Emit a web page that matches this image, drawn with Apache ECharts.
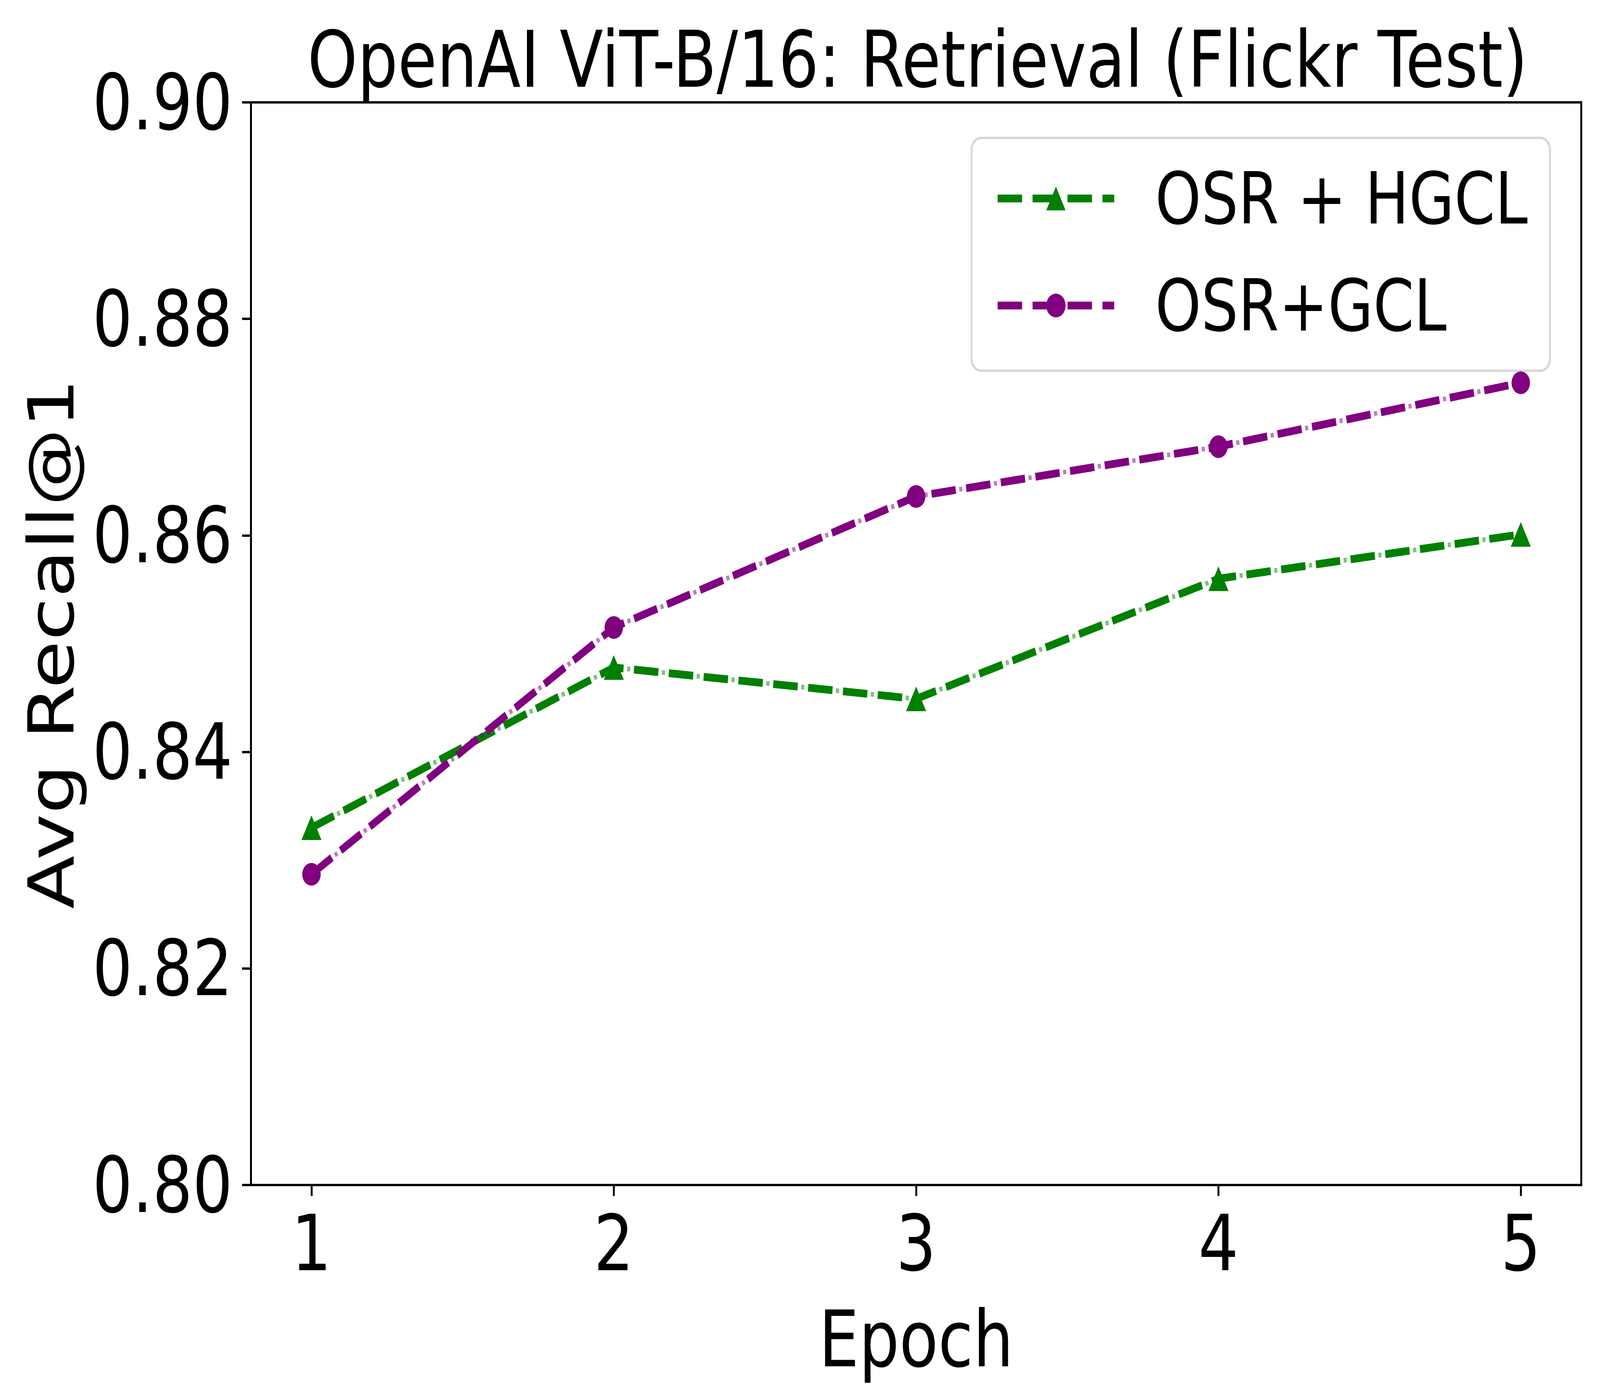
<!DOCTYPE html>
<html>
<head>
<meta charset="utf-8">
<script src="https://cdn.jsdelivr.net/npm/echarts@6/dist/echarts.min.js"></script>
<style>
html,body{margin:0;padding:0;background:#fff;overflow:hidden;}
#chart{width:5036px;height:3573px;transform-origin:0 0;}
</style>
</head>
<body>
<div id="chart"></div>
<script>
const epochs = [1, 2, 3, 4, 5];
const osrHgcl = [0.8330, 0.8478, 0.8449, 0.8560, 0.8601];
const osrGcl = [0.8287, 0.8515, 0.8636, 0.8682, 0.8741];
const xTicks = [1, 2, 3, 4, 5];
const seriesNames = ['OSR + HGCL', 'OSR+GCL'];
const titleText = 'OpenAI ViT-B/16: Retrieval (Flickr Test)';

const GREEN = '#008000', PURPLE = '#800080';
const toPairs = (ys) => epochs.map((x, i) => [x, ys[i]]);

// The chart is laid out in the reference's 5036 x 3573 pixel frame and
// fitted to whatever viewport the browser actually provides.
const el = document.getElementById('chart');
const sx = window.innerWidth / 5036, sy = window.innerHeight / 3573;
el.style.transform = 'scale(' + sx + ',' + sy + ')';

const chart = echarts.init(el, null, {renderer: 'svg', width: 5036, height: 3573});

function mainSeries(name, data, color, symbol, size) {
  return {
    name: name, type: 'line', data: data,
    symbol: symbol, symbolSize: size, showSymbol: true,
    itemStyle: {color: color, borderWidth: 0},
    lineStyle: {color: color, width: 20, type: [77, 33], dashOffset: 0, cap: 'butt'},
    animation: false, silent: true
  };
}
function dotSeries(data, color) {
  return {
    name: '_dots', type: 'line', data: data, symbol: 'none',
    lineStyle: {color: color, opacity: 0.5, width: 12, type: [10, 100], dashOffset: 21.5, cap: 'butt'},
    animation: false, silent: true
  };
}

const fontFam = 'DejaVu Sans';
const option = {
  backgroundColor: '#ffffff',
  animation: false,
  textStyle: {fontFamily: fontFam, color: '#000'},
  title: {
    text: titleText,
    left: 2883, top: 48, textAlign: 'center',
    textStyle: {fontFamily: fontFam, fontSize: 200, fontWeight: 'normal', color: '#000'}
  },
  grid: {
    left: 790, right: 59, top: 262, bottom: 540,
    show: true, borderColor: '#000', borderWidth: 6, backgroundColor: 'transparent'
  },
  legend: {
    data: seriesNames,
    orient: 'vertical',
    left: 3058, top: 353,
    padding: [63, 70, 75, 72],
    itemWidth: 367, itemHeight: 76, itemGap: 90,
    backgroundColor: 'rgba(255,255,255,0.8)',
    borderColor: '#d6d6d6', borderWidth: 6, borderRadius: 30,
    lineStyle: {width: 20, type: [77, 33], opacity: 1, cap: 'butt', dashOffset: 0},
    textStyle: {fontFamily: fontFam, fontSize: 184, color: '#000', padding: [0, 0, 0, 124], lineHeight: 180},
    selectedMode: false
  },
  xAxis: {
    type: 'value', min: 0.8, max: 5.2,
    name: 'Epoch', nameLocation: 'middle', nameGap: 295,
    nameTextStyle: {fontFamily: fontFam, fontSize: 200, color: '#000'},
    axisLine: {show: true, lineStyle: {color: '#000', width: 6}},
    axisTick: {show: true, inside: false, length: 28, lineStyle: {color: '#000', width: 6}, customValues: xTicks},
    axisLabel: {show: true, margin: 50, fontSize: 198, color: '#000', fontFamily: fontFam, customValues: xTicks,
      formatter: (v) => String(v)},
    splitLine: {show: false}
  },
  yAxis: {
    type: 'value', min: 0.80, max: 0.90, interval: 0.02,
    name: 'Avg Recall@1', nameLocation: 'middle', nameGap: 528,
    nameTextStyle: {fontFamily: fontFam, fontSize: 200, color: '#000'},
    axisLine: {show: true, lineStyle: {color: '#000', width: 6}},
    axisTick: {show: true, inside: false, length: 28, lineStyle: {color: '#000', width: 6}},
    axisLabel: {show: true, margin: 58, fontSize: 198, color: '#000', fontFamily: fontFam,
      formatter: (v) => v.toFixed(2)},
    splitLine: {show: false}
  },
  series: [
    Object.assign(dotSeries(toPairs(osrHgcl), GREEN), {z: 3}),
    Object.assign(mainSeries(seriesNames[0], toPairs(osrHgcl), GREEN, 'triangle', [63, 63]), {z: 4}),
    Object.assign(dotSeries(toPairs(osrGcl), PURPLE), {z: 5}),
    Object.assign(mainSeries(seriesNames[1], toPairs(osrGcl), PURPLE, 'circle', 58), {z: 6})
  ]
};
chart.setOption(option);
</script>
</body>
</html>
